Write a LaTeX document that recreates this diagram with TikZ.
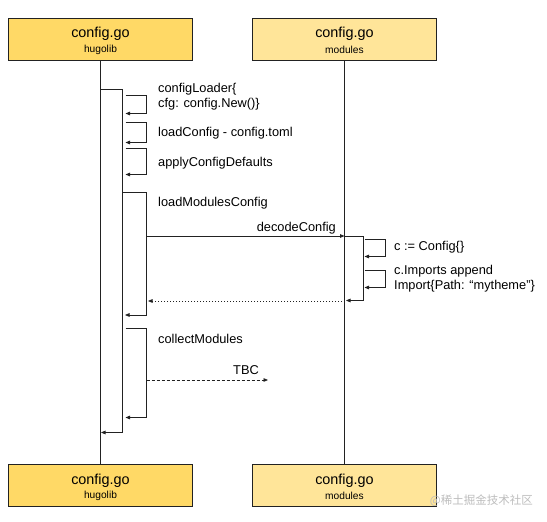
\documentclass[tikz,border=0pt]{standalone}
\usepackage{fontspec}
\setmainfont{Liberation Sans}
\newfontfamily\cjkfont{Noto Sans CJK SC}
\usetikzlibrary{arrows.meta}
\definecolor{hdrA}{HTML}{FFD966}
\definecolor{hdrB}{HTML}{FFE599}
\definecolor{ln}{HTML}{222222}
\definecolor{wm}{HTML}{BDBDBD}
\begin{document}
\begin{tikzpicture}[x=1pt,y=-1pt,
  hdrbox/.style={draw=ln,line width=0.9pt,minimum width=184pt,minimum height=42pt,inner sep=0pt},
  titletext/.style={inner sep=0pt,font=\fontsize{14.4}{16}\selectfont},
  subtext/.style={inner sep=0pt,font=\fontsize{10.2}{12}\selectfont},
  msgtext/.style={inner sep=0pt,text height=9.5pt,text depth=2.5pt,font=\fontsize{12.8}{14}\selectfont},
  life/.style={draw=ln,line width=0.8pt},
  callarrow/.style={draw=ln,line width=0.8pt,-{Triangle[length=4.5pt,width=3.6pt]}},
  retarrow/.style={callarrow,dash pattern=on 1pt off 2pt},
  tbcarrow/.style={callarrow,dash pattern=on 3pt off 2pt}
]
\useasboundingbox (0,0) rectangle (547,522);

% header boxes
\node[hdrbox,fill=hdrA] (topA) at (100.5,39.5) {};
\node[hdrbox,fill=hdrB] (topB) at (344.5,39.5) {};
\node[titletext] (topAt) at (100.5,34) {config.go};
\node[subtext] (topAs) at (100.5,49.5) {hugolib};
\node[titletext] (topBt) at (344.5,34) {config.go};
\node[subtext] (topBs) at (344.5,49.5) {modules};

\node[hdrbox,fill=hdrA] (botA) at (100.5,485.5) {};
\node[hdrbox,fill=hdrB] (botB) at (344.5,485.5) {};
\node[titletext] (botAt) at (100.5,480.5) {config.go};
\node[subtext] (botAs) at (100.5,496) {hugolib};
\node[titletext] (botBt) at (344.5,480.5) {config.go};
\node[subtext] (botBs) at (344.5,496) {modules};

% lifelines
\draw[life] (topA.south) -- (botA.north);
\draw[life] (topB.south) -- (botB.north);

% main activation on hugolib
\coordinate (m1) at (100.5,89.5);
\coordinate (m2) at (122,89.5);
\coordinate (m3) at (122,432.5);
\coordinate (m4) at (101,432.5);
\draw[callarrow] (m1) -- (m2) -- (m3) -- (m4);

% configLoader self call
\coordinate (s1a) at (125.5,95);
\coordinate (s1b) at (146.5,95);
\coordinate (s1c) at (146.5,113.5);
\coordinate (s1d) at (125.5,113.5);
\draw[callarrow] (s1a) -- (s1b) -- (s1c) -- (s1d);
\node[msgtext,anchor=west] (l1a) at (158,89) {configLoader\{};
\node[msgtext,anchor=west] (l1b) at (158,103.5) {cfg: config.New()\}};

% loadConfig
\coordinate (s2a) at (125.5,122.5);
\coordinate (s2b) at (146.5,122.5);
\coordinate (s2c) at (146.5,142.5);
\coordinate (s2d) at (125.5,142.5);
\draw[callarrow] (s2a) -- (s2b) -- (s2c) -- (s2d);
\node[msgtext,anchor=west] (l2) at (158,133) {loadConfig - config.toml};

% applyConfigDefaults
\coordinate (s3a) at (125.5,148.5);
\coordinate (s3b) at (146.5,148.5);
\coordinate (s3c) at (146.5,174.5);
\coordinate (s3d) at (125.5,174.5);
\draw[callarrow] (s3a) -- (s3b) -- (s3c) -- (s3d);
\node[msgtext,anchor=west] (l3) at (158,162.5) {applyConfigDefaults};

% loadModulesConfig
\coordinate (s4a) at (122,192.5);
\coordinate (s4b) at (146.5,192.5);
\coordinate (s4c) at (146.5,315);
\coordinate (s4d) at (125,315);
\draw[callarrow] (s4a) -- (s4b) -- (s4c) -- (s4d);
\node[msgtext,anchor=west] (l4) at (158,202.5) {loadModulesConfig};

% decodeConfig
\coordinate (dcA) at (146.5,236);
\coordinate (dcB) at (344.5,236);
\draw[callarrow] (dcA) -- (dcB);
\node[msgtext,anchor=east] (ldc) at (336,227.5) {decodeConfig};

% activation on modules
\coordinate (r0) at (363.5,236);
\coordinate (r1) at (363.5,300.5);
\coordinate (r2) at (346,300.5);
\draw[callarrow] (dcB) -- (r0) -- (r1) -- (r2);

\coordinate (r1a) at (364.5,239);
\coordinate (r1b) at (385.5,239);
\coordinate (r1c) at (385.5,256.5);
\coordinate (r1d) at (364.5,256.5);
\draw[callarrow] (r1a) -- (r1b) -- (r1c) -- (r1d);
\node[msgtext,anchor=west] (lr1) at (394,246.5) {c := Config\{\}};

\coordinate (r2a) at (364.5,270.5);
\coordinate (r2b) at (385.5,270.5);
\coordinate (r2c) at (385.5,287.5);
\coordinate (r2d) at (364.5,287.5);
\draw[callarrow] (r2a) -- (r2b) -- (r2c) -- (r2d);
\node[msgtext,anchor=west] (lr2a) at (394,271) {c.Imports append};
\node[msgtext,anchor=west] (lr2b) at (394,286) {Import\{Path: “mytheme”\}};

% dotted return
\coordinate (retA) at (342,301);
\coordinate (retB) at (148,301);
\draw[retarrow] (retA) -- (retB);

% collectModules
\coordinate (s5a) at (125.5,328.5);
\coordinate (s5b) at (146.5,328.5);
\coordinate (s5c) at (146.5,417.5);
\coordinate (s5d) at (125.5,417.5);
\draw[callarrow] (s5a) -- (s5b) -- (s5c) -- (s5d);
\node[msgtext,anchor=west] (l5) at (158,339.5) {collectModules};

% TBC
\coordinate (tbcA) at (146.5,380);
\coordinate (tbcB) at (268,380);
\draw[tbcarrow] (tbcA) -- (tbcB);
\node[msgtext] (ltbc) at (246,370.5) {TBC};

% watermark
\node[inner sep=0pt,anchor=east,text=wm,font=\cjkfont\fontsize{11.5}{14}\selectfont] (wmk) at (533,501) {@稀土掘金技术社区};
\end{tikzpicture}
\end{document}
